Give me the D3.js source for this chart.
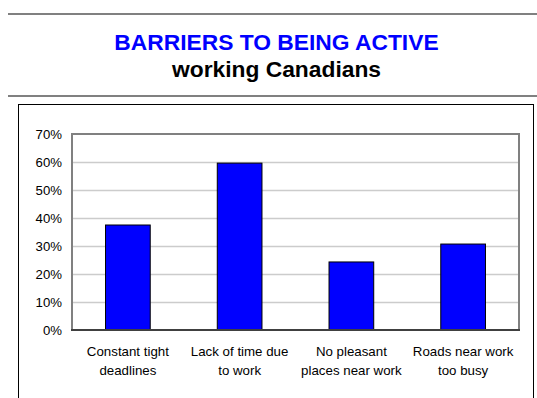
<!DOCTYPE html>
<html><head><meta charset="utf-8">
<script src="https://cdn.jsdelivr.net/npm/d3@7"></script>
<style>
html,body{margin:0;padding:0;background:#fff;}
svg{display:block;font-family:"Liberation Sans",Arial,sans-serif;}
</style></head>
<body>
<svg id="c" width="537" height="398"></svg>
<script>
const categories = [["Constant tight","deadlines"],["Lack of time due","to work"],["No pleasant","places near work"],["Roads near work","too busy"]];
const values = [0.375, 0.596, 0.243, 0.307];
const yTicks = [0,0.1,0.2,0.3,0.4,0.5,0.6,0.7];
const titleText = "BARRIERS TO BEING ACTIVE";
const subtitleText = "working Canadians";

const svg = d3.select("#c");
const W = 537, H = 398;
const cx = 276.5;

// header rules
svg.append("rect").attr("x",8).attr("y",13).attr("width",W-8).attr("height",2).attr("fill","#808080");
svg.append("rect").attr("x",8).attr("y",95).attr("width",W-8).attr("height",2).attr("fill","#808080");

svg.append("text").attr("x",cx).attr("y",49.5).attr("text-anchor","middle")
  .attr("font-size",22.8).attr("font-weight","bold").attr("fill","#0000ff").text(titleText);
svg.append("text").attr("x",cx).attr("y",76.5).attr("text-anchor","middle")
  .attr("font-size",22.8).attr("font-weight","bold").attr("fill","#000").text(subtitleText);

// frame
svg.append("rect").attr("x",18.5).attr("y",104.5).attr("width",515).attr("height",320)
  .attr("fill","none").attr("stroke","#000").attr("stroke-width",1);

const x0 = 72, x1 = 519, yTop = 134, yBot = 330;
const x = d3.scaleBand().domain(d3.range(categories.length)).range([x0, x1]).paddingInner(0.6).paddingOuter(0.3);
const y = d3.scaleLinear().domain([0,0.7]).range([yBot, yTop]);

// gridlines
svg.append("g").selectAll("line").data(yTicks.filter(t=>t>0 && t<0.7)).join("line")
  .attr("x1",x0).attr("x2",x1).attr("y1",d=>Math.round(y(d))+0.5).attr("y2",d=>Math.round(y(d))+0.5)
  .attr("stroke","#cccccc").attr("stroke-width",1.3);

// plot border
svg.append("rect").attr("x",x0).attr("y",yTop).attr("width",x1-x0).attr("height",yBot-yTop)
  .attr("fill","none").attr("stroke","#808080").attr("stroke-width",2);

// bars
svg.append("g").selectAll("rect").data(values).join("rect")
  .attr("x",(d,i)=>x(i)).attr("width",x.bandwidth())
  .attr("y",d=>y(d)).attr("height",d=>yBot-y(d))
  .attr("fill","#0000ff").attr("stroke","#000").attr("stroke-width",1);

// bottom axis line
svg.append("line").attr("x1",x0-1).attr("x2",x1+1).attr("y1",yBot).attr("y2",yBot)
  .attr("stroke","#404040").attr("stroke-width",2);

// y axis labels
const yAxis = d3.axisLeft(y).tickValues(yTicks).tickFormat(d3.format(".0%")).tickSize(0).tickPadding(10);
const ga = svg.append("g").attr("transform",`translate(${x0},0)`).call(yAxis);
ga.select(".domain").remove();
ga.selectAll("text").attr("font-size",13.2).attr("font-family","Liberation Sans, Arial, sans-serif").attr("fill","#000").attr("dy","0.35em");

// x labels
const gx = svg.append("g");
categories.forEach((lines,i)=>{
  const t = gx.append("text").attr("text-anchor","middle").attr("font-size",13.3).attr("fill","#000");
  lines.forEach((ln,j)=>{
    t.append("tspan").attr("x",x(i)+x.bandwidth()/2).attr("y",356+19*j).text(ln);
  });
});
</script>
</body></html>
